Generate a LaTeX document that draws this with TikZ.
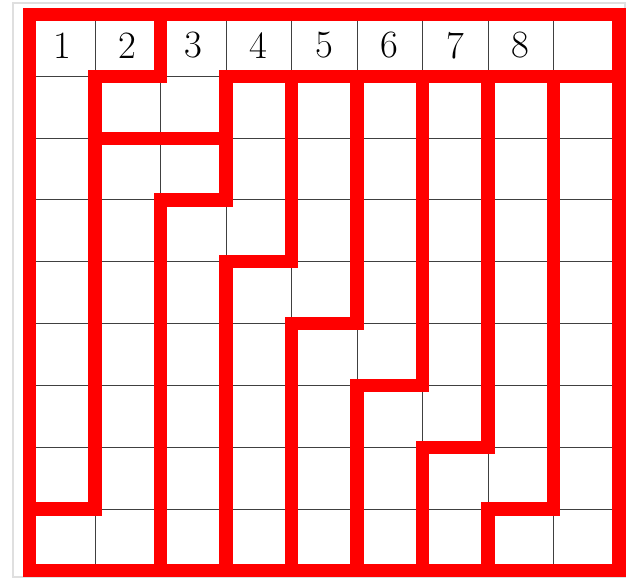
\documentclass[tikz,border=0pt]{standalone}
\begin{document}
\begin{tikzpicture}[x=1.31cm, y={(0cm,-1.236cm)},
  gridline/.style={line width=0.5pt, black!75},
  wall/.style={line width=7.5pt, red, line join=miter, line cap=rect},
  lbl/.style={font=\fontsize{22}{26}\selectfont, inner sep=0pt}]
\useasboundingbox (-0.450,-0.235) rectangle (9.122,9.118);
\draw[gray!25, line width=0.8pt] (-0.252,-0.186) rectangle (9.09,9.10);
\foreach \k in {0,...,9} {
  \draw[gridline] (\k,0) -- (\k,9);
  \draw[gridline] (0,\k) -- (9,\k);
}
\foreach \i in {1,...,8} \node[lbl] (h\i) at (\i-0.5,0.5) {\i};
\draw[wall] (0,0) rectangle (9,9);
\draw[wall] (2,0) -- (2,1) -- (1,1) -- (1,8) -- (0,8);
\draw[wall] (1,2) -- (3,2);
\draw[wall] (9,1) -- (3,1) -- (3,3) -- (2,3) -- (2,9);
\draw[wall] (4,1) -- (4,4) -- (3,4) -- (3,9);
\draw[wall] (5,1) -- (5,5) -- (4,5) -- (4,9);
\draw[wall] (6,1) -- (6,6) -- (5,6) -- (5,9);
\draw[wall] (7,1) -- (7,7) -- (6,7) -- (6,9);
\draw[wall] (8,1) -- (8,8) -- (7,8) -- (7,9);
\end{tikzpicture}
\end{document}
